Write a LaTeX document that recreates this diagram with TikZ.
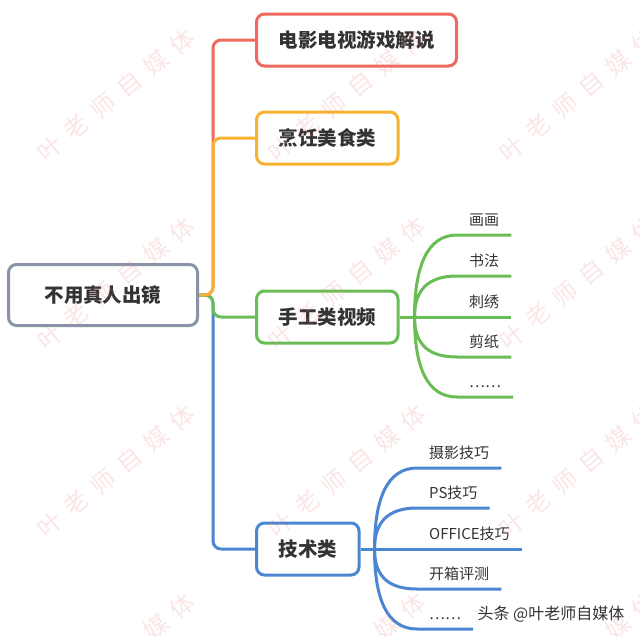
\documentclass[tikz,border=0pt]{standalone}
\usepackage{fontspec}
\setmainfont{Noto Sans CJK SC}
\usetikzlibrary{positioning,calc}
\definecolor{inkdark}{HTML}{333333}
\definecolor{rootgray}{HTML}{8A92A6}
\definecolor{brred}{HTML}{F06A62}
\definecolor{brorange}{HTML}{F8B232}
\definecolor{brgreen}{HTML}{6ABD54}
\definecolor{brblue}{HTML}{4A86D2}
\definecolor{wmred}{HTML}{E87878}
\newcommand\wmtext{叶\hspace{10pt}老\hspace{10pt}师\hspace{10pt}自\hspace{10pt}媒\hspace{10pt}体}
\tikzset{
  topic/.style ={rounded corners=8pt,line width=3pt,fill=white,minimum height=52pt,
                 inner xsep=22pt,text=inkdark,font=\fontsize{19.5}{20}\selectfont\bfseries},
  leaf/.style  ={anchor=south west,inner xsep=12pt,inner ysep=0pt,text height=11pt,
                 text depth=9pt,text=inkdark,font=\fontsize{15}{15}\selectfont},
  link/.style  ={line width=3pt,rounded corners=8pt},
  twig/.style  ={line width=3pt},
  wmark/.style ={rotate=39,text=wmred,opacity=0.18,font=\fontsize{24}{24}\selectfont},
  credit/.style={text=inkdark,font=\fontsize{16}{16}\selectfont}
}
\begin{document}
\begin{tikzpicture}[x=1pt,y=-1pt]
    \useasboundingbox (0,0) rectangle (640,637);
    \fill[white] (0,0) rectangle (640,637);
    \node[topic,draw=rootgray,minimum width=189pt,minimum height=61pt] (root) at (103,295) {不用真人出镜};
    \node[topic,draw=brred,anchor=west] (film) at (255,40) {电影电视游戏解说};
    \node[topic,draw=brorange,anchor=west] (cook) at (255,138) {烹饪美食类};
    \node[topic,draw=brgreen,anchor=west] (craft) at (255,317) {手工类视频};
    \node[topic,draw=brblue,anchor=west] (tech) at (255,549) {技术类};
    \draw[link,brred] (root.east) -- ++(14,0) |- (film.west);
    \draw[link,brblue] (root.east) -- ++(14,0) |- (tech.west);
    \draw[link,brgreen] (root.east) -- ++(14,0) |- (craft.west);
    \draw[link,brorange] (root.east) -- ++(14,0) |- (cook.west);
    % craft leaves
    \coordinate (cj) at ($(craft.east)+(15,0)$);
    \node[leaf] (c1) at (457,235) {画画};
    \node[leaf] (c2) at (457,276) {书法};
    \node[leaf] (c3) at (457,317) {刺绣};
    \node[leaf] (c4) at (457,357) {剪纸};
    \node[leaf] (c5) at (457,397) {……};
    \draw[twig,brgreen] (craft.east) -- (cj);
    \draw[twig,brgreen] (cj) .. controls +(0,-50) and +(-30,0) .. (c1.south west) -- (c1.south east);
    \draw[twig,brgreen] (cj) .. controls +(0,-28) and +(-28,0) .. (c2.south west) -- (c2.south east);
    \draw[twig,brgreen] (cj) -- (c3.south west) -- (c3.south east);
    \draw[twig,brgreen] (cj) .. controls +(0,28) and +(-28,0) .. (c4.south west) -- (c4.south east);
    \draw[twig,brgreen] (cj) .. controls +(0,50) and +(-30,0) .. (c5.south west) -- (c5.south east);
    % tech leaves
    \coordinate (tj) at ($(tech.east)+(14,0)$);
    \node[leaf] (t1) at (417,468) {摄影技巧};
    \node[leaf] (t2) at (417,508) {PS技巧};
    \node[leaf] (t3) at (417,549) {OFFICE技巧};
    \node[leaf] (t4) at (417,589) {开箱评测};
    \node[leaf] (t5) at (417,629) {……};
    \draw[twig,brblue] (tech.east) -- (tj);
    \draw[twig,brblue] (tj) .. controls +(0,-50) and +(-30,0) .. (t1.south west) -- (t1.south east);
    \draw[twig,brblue] (tj) .. controls +(0,-28) and +(-28,0) .. (t2.south west) -- (t2.south east);
    \draw[twig,brblue] (tj) -- (t3.south west) -- (t3.south east);
    \draw[twig,brblue] (tj) .. controls +(0,28) and +(-28,0) .. (t4.south west) -- (t4.south east);
    \draw[twig,brblue] (tj) .. controls +(0,50) and +(-30,0) .. (t5.south west) -- (t5.south east);
    % watermark
    \foreach \wx in {116,347,578}
      \foreach \wy in {95,283,471,659}
        \node[wmark] (wm-\wx-\wy) at (\wx,\wy) {\wmtext};
    \node[credit] (credit) at (551,614) {头条 @叶老师自媒体};
\end{tikzpicture}
\end{document}
